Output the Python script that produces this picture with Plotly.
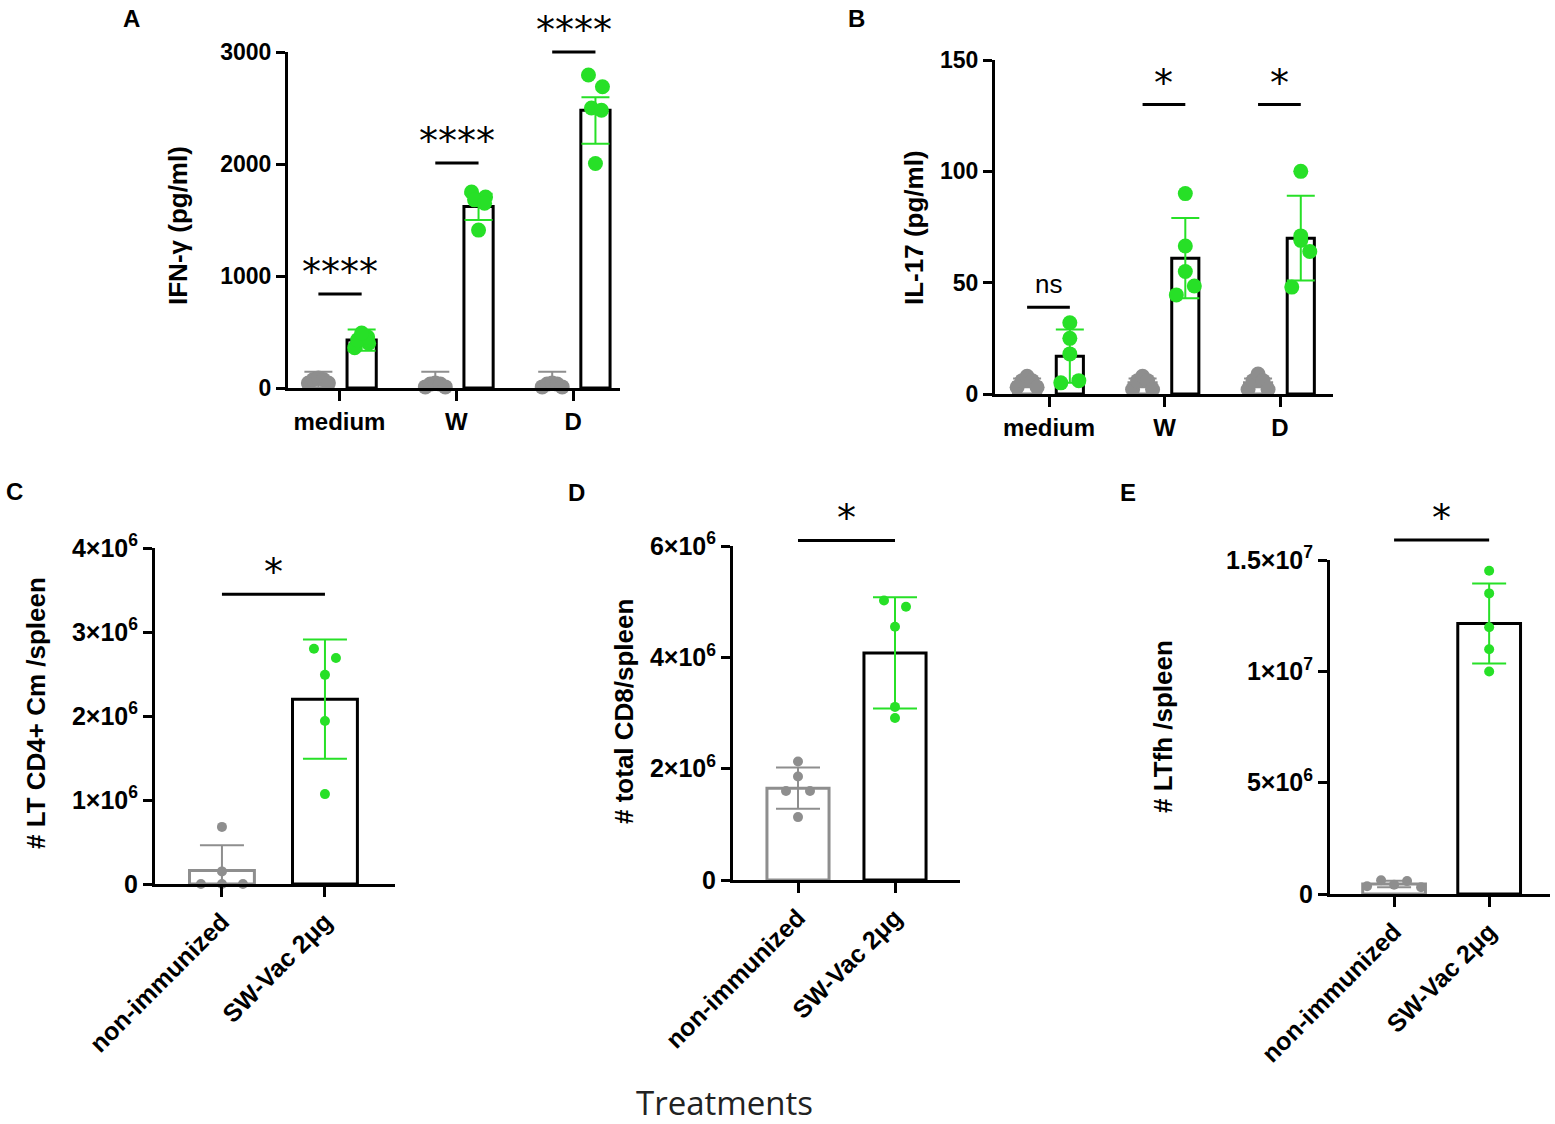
import plotly.graph_objects as go

W, H = 1555, 1124

# ------------------------------------------------------------------ data
A_categories = ["medium", "W", "D"]
A_ctrl_mean = [65, 30, 30]
A_ctrl_err = [80, 115, 115]
A_ctrl_points = [[45, 75, 90, 75, 45], [10, 35, 45, 35, 10], [10, 35, 45, 35, 10]]
A_stim_mean = [428, 1620, 2480]
A_stim_err_plus = [95, 115, 115]
A_stim_err_minus = [95, 120, 300]
A_stim_points = [[360, 400, 430, 455, 490],
                 [1750, 1705, 1680, 1650, 1410],
                 [2795, 2690, 2500, 2480, 2005]]
A_sig = ["****", "****", "****"]
A_sig_level = [840, 2010, 3000]

B_categories = ["medium", "W", "D"]
B_ctrl_mean = [5, 5, 5]
B_ctrl_err = [2, 2, 2]
B_ctrl_points = [[3, 6, 8, 6, 3], [2, 6, 8, 6, 2], [2, 6, 9, 6, 2]]
B_stim_mean = [17, 61, 70]
B_stim_err = [12, 18, 19]
B_stim_points = [[32, 25, 18, 6, 5],
                 [90, 66.5, 55, 48.5, 44.5],
                 [100, 71, 69, 64, 48]]
B_sig = ["ns", "*", "*"]
B_sig_level = [39, 130, 130]

groups = ["non-immunized", "SW-Vac 2μg"]

C_mean = [0.16e6, 2.2e6]
C_err = [0.30e6, 0.71e6]
C_points = [[0.68e6, 0.15e6, 0.0, 0.0, 0.0],
            [2.80e6, 2.69e6, 2.49e6, 1.94e6, 1.07e6]]
C_sig_level = 3.45e6

D_mean = [1.65e6, 4.08e6]
D_err = [0.37e6, 1.0e6]
D_points = [[2.13e6, 1.86e6, 1.60e6, 1.60e6, 1.13e6],
            [5.02e6, 4.91e6, 4.55e6, 3.11e6, 2.91e6]]
D_sig_level = 6.1e6

E_mean = [0.45e6, 12.15e6]
E_err = [0.15e6, 1.8e6]
E_points = [[0.35e6, 0.62e6, 0.42e6, 0.58e6, 0.30e6],
            [14.52e6, 13.5e6, 11.98e6, 10.99e6, 9.99e6]]
E_sig_level = 15.9e6

# ------------------------------------------------------------------ style
GREEN = "#27e027"
GRAY = "#8e8e8e"
FONT = "Liberation Sans, Arial, sans-serif"
STAR_FONT = "DejaVu Sans, sans-serif"

# pixel boxes of each panel: left, right, bottom(0), top(max)
PANELS = {
    "A": dict(x0=288, x1=620, yb=388, yt=52, xr=[-0.44, 2.40], yr=[0, 3000]),
    "B": dict(x0=995, x1=1333, yb=394, yt=60, xr=[-0.468, 2.459], yr=[0, 150]),
    "C": dict(x0=155, x1=395, yb=884, yt=548, xr=[-0.65, 1.68], yr=[0, 4e6]),
    "D": dict(x0=733, x1=960, yb=880, yt=546, xr=[-0.67, 1.67], yr=[0, 6e6]),
    "E": dict(x0=1330, x1=1550, yb=894, yt=560, xr=[-0.674, 1.64], yr=[0, 1.5e7]),
}
AX = {"A": ("x", "y"), "B": ("x2", "y2"), "C": ("x3", "y3"), "D": ("x4", "y4"), "E": ("x5", "y5")}


def units_per_px(p):
    P = PANELS[p]
    return (P["xr"][1] - P["xr"][0]) / (P["x1"] - P["x0"])


def to_paper(p, xd, yd):
    P = PANELS[p]
    xpx = P["x0"] + (xd - P["xr"][0]) / (P["xr"][1] - P["xr"][0]) * (P["x1"] - P["x0"])
    ypx = P["yb"] - (yd - P["yr"][0]) / (P["yr"][1] - P["yr"][0]) * (P["yb"] - P["yt"])
    return xpx / W, 1 - ypx / H


fig = go.Figure()
shapes = []
annotations = []


def add_bar(p, xs, means, plus, minus, edge, errcolor, width, capw):
    xa, ya = AX[p]
    fig.add_trace(go.Bar(
        x=xs, y=means, width=width, xaxis=xa, yaxis=ya,
        marker=dict(color="white", line=dict(color=edge, width=3)),
        error_y=dict(type="data", array=plus, arrayminus=minus, symmetric=False,
                     color=errcolor, thickness=2, width=capw),
        showlegend=False, hoverinfo="skip"))


def add_points(p, centers, pts, jit_px, color, size):
    xa, ya = AX[p]
    upp = units_per_px(p)
    xs, ys = [], []
    for c, row in zip(centers, pts):
        for j, v in zip(jit_px, row):
            xs.append(c + j * upp)
            ys.append(v)
    fig.add_trace(go.Scatter(x=xs, y=ys, xaxis=xa, yaxis=ya, mode="markers",
                             marker=dict(color=color, size=size, line=dict(width=0)),
                             cliponaxis=False, showlegend=False, hoverinfo="skip"))


def add_sig(p, xa_, xb_, level, text, size=34, font=STAR_FONT, up=4):
    xa0, y0 = to_paper(p, xa_, level)
    xb0, _ = to_paper(p, xb_, level)
    shapes.append(dict(type="line", xref="paper", yref="paper", x0=xa0, x1=xb0, y0=y0, y1=y0,
                       line=dict(color="black", width=3)))
    annotations.append(dict(xref="paper", yref="paper", x=(xa0 + xb0) / 2, y=y0 + up / H,
                            text=text, showarrow=False, xanchor="center", yanchor="bottom",
                            font=dict(family=font, size=size, color="black")))


# ---- Panel A
offA = (-0.18, 0.19)
wA = 0.25
cA = list(range(len(A_categories)))
add_bar("A", [c + offA[0] for c in cA], A_ctrl_mean, A_ctrl_err, A_ctrl_err, GRAY, GRAY, wA, 14)
add_bar("A", [c + offA[1] for c in cA], A_stim_mean, A_stim_err_plus, A_stim_err_minus, "black", GREEN, wA, 14)
add_points("A", [c + offA[0] for c in cA], A_ctrl_points, [-10, -5, 0, 5, 10], GRAY, 15)
add_points("A", [c + offA[1] for c in cA], A_stim_points, [-7, 7, -4, 6, 0], GREEN, 15)
for c, t, lv in zip(cA, A_sig, A_sig_level):
    add_sig("A", c + offA[0], c + offA[1], lv, t, size=38, up=-2)

# ---- Panel B
offB = (-0.19, 0.18)
wB = 0.235
cB = list(range(len(B_categories)))
add_bar("B", [c + offB[0] for c in cB], B_ctrl_mean, B_ctrl_err, B_ctrl_err, GRAY, GRAY, wB, 14)
add_bar("B", [c + offB[1] for c in cB], B_stim_mean, B_stim_err, B_stim_err, "black", GREEN, wB, 14)
add_points("B", [c + offB[0] for c in cB], B_ctrl_points, [-10, -5, 0, 5, 10], GRAY, 15)
add_points("B", [c + offB[1] for c in cB], B_stim_points, [0, 0, 0, 9, -9], GREEN, 15)
for c, t, lv in zip(cB, B_sig, B_sig_level):
    if t == "ns":
        add_sig("B", c + offB[0], c + offB[1], lv, t, size=26, font=FONT, up=6)
    else:
        add_sig("B", c + offB[0], c + offB[1], lv, t, size=38, up=-2)

# ---- Panels C, D, E
for p, mean, err, pts, lvl, bw, capw, gj in [
    ("C", C_mean, C_err, C_points, C_sig_level, 0.63, 22, [0, 0, -21, 0, 21]),
    ("D", D_mean, D_err, D_points, D_sig_level, 0.64, 22, [0, 0, -12, 12, 0]),
    ("E", E_mean, E_err, E_points, E_sig_level, 0.66, 17, [-27, -13, 0, 13, 27]),
]:
    add_bar(p, [0], [mean[0]], [err[0]], [err[0]], GRAY, GRAY, bw, capw)
    add_bar(p, [1], [mean[1]], [err[1]], [err[1]], "black", GREEN, bw, capw)
    add_points(p, [0], [pts[0]], gj, GRAY, 10)
    add_points(p, [1], [pts[1]], [-11, 11, 0, 0, 0] if p != "E" else [0, 0, 0, 0, 0], GREEN, 10)
    add_sig(p, 0, 1, lvl, "*", size=38, up=-2)

# ------------------------------------------------------------------ axes
Y_TICKS = {
    "A": ([0, 1000, 2000, 3000], ["0", "1000", "2000", "3000"]),
    "B": ([0, 50, 100, 150], ["0", "50", "100", "150"]),
    "C": ([0, 1e6, 2e6, 3e6, 4e6], ["0", "1×10<sup>6</sup>", "2×10<sup>6</sup>", "3×10<sup>6</sup>", "4×10<sup>6</sup>"]),
    "D": ([0, 2e6, 4e6, 6e6], ["0", "2×10<sup>6</sup>", "4×10<sup>6</sup>", "6×10<sup>6</sup>"]),
    "E": ([0, 5e6, 1e7, 1.5e7], ["0", "5×10<sup>6</sup>", "1×10<sup>7</sup>", "1.5×10<sup>7</sup>"]),
}
X_TICKS = {"A": A_categories, "B": B_categories, "C": groups, "D": groups, "E": groups}

layout_axes = {}
for i, p in enumerate(["A", "B", "C", "D", "E"]):
    P = PANELS[p]
    sfx = "" if i == 0 else str(i + 1)
    xa, ya = AX[p]
    top = p in ("A", "B")
    layout_axes["xaxis" + sfx] = dict(
        domain=[P["x0"] / W, P["x1"] / W], range=P["xr"], anchor=ya, automargin=False,
        showline=True, linewidth=3, linecolor="black", showgrid=False, zeroline=False,
        ticks="outside", ticklen=10, tickwidth=3, tickcolor="black",
        tickvals=list(range(len(X_TICKS[p]))), ticktext=X_TICKS[p],
        tickangle=0 if top else -45,
        tickfont=dict(family=FONT, size=24 if top else 25, color="black", weight="bold"),
        fixedrange=True)
    yt, ytt = Y_TICKS[p]
    layout_axes["yaxis" + sfx] = dict(
        domain=[1 - P["yb"] / H, 1 - P["yt"] / H], range=P["yr"], anchor=xa, automargin=False,
        showline=True, linewidth=3, linecolor="black", showgrid=False, zeroline=False,
        ticks="outside", ticklen=9, tickwidth=3, tickcolor="black",
        tickvals=yt, ticktext=ytt,
        tickfont=dict(family=FONT, size=23 if top else 25, color="black", weight="bold"),
        fixedrange=True)

# axis titles
for text, x, y in [("IFN-γ (pg/ml)", 178, 226), ("IL-17 (pg/ml)", 914, 228),
                   ("# LT CD4+ Cm /spleen", 36, 713), ("# total CD8/spleen", 624, 712),
                   ("# LTfh /spleen", 1163, 727)]:
    annotations.append(dict(xref="paper", yref="paper", x=x / W, y=1 - y / H, text=text,
                            textangle=-90, showarrow=False, xanchor="center", yanchor="middle",
                            font=dict(family=FONT, size=26, color="black", weight="bold")))

# panel letters
for text, x, y in [("A", 131, 18), ("B", 857, 18), ("C", 14, 491), ("D", 576, 492), ("E", 1128, 493)]:
    annotations.append(dict(xref="paper", yref="paper", x=x / W, y=1 - y / H, text=text,
                            showarrow=False, xanchor="center", yanchor="middle",
                            font=dict(family=FONT, size=24, color="black", weight="bold")))

annotations.append(dict(xref="paper", yref="paper", x=724 / W, y=1 - 1102 / H, text="Treatments",
                        showarrow=False, xanchor="center", yanchor="middle",
                        font=dict(family="Open Sans, Noto Sans, sans-serif", size=33, color="#222222")))

fig.update_layout(
    template="none",
    width=W, height=H, margin=dict(l=0, r=0, t=0, b=0, pad=0, autoexpand=False),
    paper_bgcolor="white", plot_bgcolor="white",
    barmode="overlay", showlegend=False,
    shapes=shapes, annotations=annotations,
    **layout_axes)

fig.write_html("out.html", config={"displayModeBar": False, "staticPlot": True},
               post_script="document.body.style.margin='0px';document.body.style.padding='0px';"
                           "document.body.style.overflow='hidden';")
